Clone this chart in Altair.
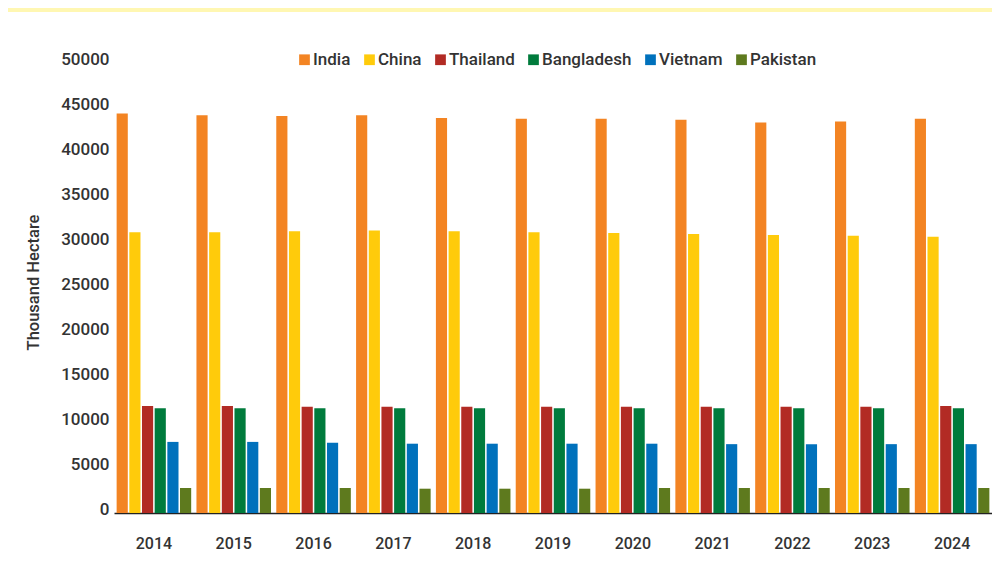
import altair as alt
import pandas as pd

years = ["2014", "2015", "2016", "2017", "2018", "2019", "2020", "2021", "2022", "2023", "2024"]
countries = ["India", "China", "Thailand", "Bangladesh", "Vietnam", "Pakistan"]
colors = ["#F38423", "#FFCB0B", "#B22B24", "#007B3C", "#0071BC", "#5E7A1E"]

india = [44400, 44200, 44100, 44200, 43900, 43800, 43800, 43700, 43400, 43500, 43800]
china = [31200, 31200, 31300, 31400, 31300, 31200, 31100, 31000, 30900, 30800, 30700]
thailand = [11900, 11900, 11800, 11800, 11800, 11800, 11800, 11800, 11800, 11800, 11900]
bangladesh = [11650, 11650, 11650, 11650, 11650, 11650, 11650, 11650, 11650, 11650, 11650]
vietnam = [7900, 7900, 7800, 7700, 7700, 7700, 7700, 7650, 7650, 7650, 7650]
pakistan = [2780, 2780, 2780, 2700, 2700, 2700, 2780, 2780, 2780, 2780, 2780]

series = [india, china, thailand, bangladesh, vietnam, pakistan]
rows = []
for c, vals in zip(countries, series):
    for y, v in zip(years, vals):
        rows.append({"year": y, "country": c, "value": v})
df = pd.DataFrame(rows)

FONT = "Roboto"
TXT = "#333333"

bars = alt.Chart(df).mark_bar().encode(
    x=alt.X("year:N", sort=years, title=None,
            scale=alt.Scale(paddingInner=0.066, paddingOuter=0.033),
            axis=alt.Axis(labelAngle=0, ticks=False, domain=True, domainColor="#222222",
                          domainWidth=1.5, labelFontSize=16, labelFont=FONT,
                          labelFontWeight=500, labelColor=TXT, labelPadding=22)),
    xOffset=alt.XOffset("country:N", sort=countries,
                        scale=alt.Scale(paddingInner=0.12, paddingOuter=0)),
    y=alt.Y("value:Q", title="Thousand Hectare",
            scale=alt.Scale(domain=[0, 50000], nice=False),
            axis=alt.Axis(values=[0, 5000, 10000, 15000, 20000, 25000, 30000, 35000, 40000, 45000, 50000],
                          format="d", grid=False, ticks=False, domain=False,
                          labelFontSize=17, labelFont=FONT, labelFontWeight=500,
                          labelColor=TXT, labelPadding=5, labelOffset=-4,
                          titleFontSize=16.5, titleFont=FONT, titleFontWeight=500,
                          titleColor=TXT, titleX=-81, titleY=219,
                          titleAlign="center", titleBaseline="middle", titleAngle=-90)),
    color=alt.Color("country:N", sort=countries,
                    scale=alt.Scale(domain=countries, range=colors),
                    legend=alt.Legend(title=None, orient="none", legendX=182, legendY=-12,
                                      direction="horizontal", columns=6,
                                      symbolType="square", symbolSize=115,
                                      symbolStrokeWidth=0, labelFontSize=17,
                                      labelFont=FONT, labelFontWeight=500,
                                      labelColor=TXT, labelOffset=0,
                                      columnPadding=10)),
)

strip = alt.Chart(pd.DataFrame({"k": [0]})).mark_rect(color="#FFF7B2").encode(
    x=alt.value(-106), x2=alt.value(878), y=alt.value(-55), y2=alt.value(-51)
)

chart = alt.layer(strip, bars).properties(
    width=878, height=450,
    autosize=alt.AutoSizeParams(type="none"),
    padding={"left": 106, "top": 55, "right": 0, "bottom": 55},
    background="white",
).configure_view(stroke=None)

chart.save("out.html", embed_options={"renderer": "svg", "actions": False})
